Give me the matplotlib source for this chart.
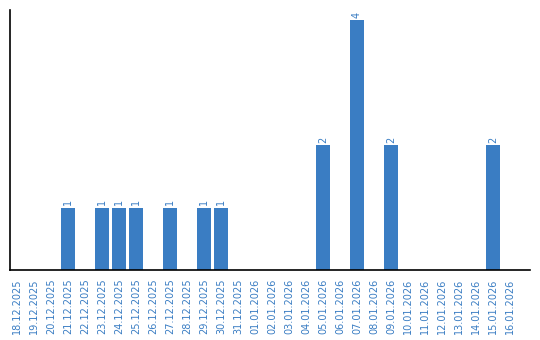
import matplotlib.pyplot as plt

dates = ['18.12.2025', '19.12.2025', '20.12.2025', '21.12.2025', '22.12.2025',
         '23.12.2025', '24.12.2025', '25.12.2025', '26.12.2025', '27.12.2025',
         '28.12.2025', '29.12.2025', '30.12.2025', '31.12.2025', '01.01.2026',
         '02.01.2026', '03.01.2026', '04.01.2026', '05.01.2026', '06.01.2026',
         '07.01.2026', '08.01.2026', '09.01.2026', '10.01.2026', '11.01.2026',
         '12.01.2026', '13.01.2026', '14.01.2026', '15.01.2026', '16.01.2026']
counts = [0, 0, 0, 1, 0,
          1, 1, 1, 0, 1,
          0, 1, 1, 0, 0,
          0, 0, 0, 2, 0,
          4, 0, 2, 0, 0,
          0, 0, 0, 2, 0]

blue = '#3a7dc3'

fig = plt.figure(figsize=(5.4, 3.4), dpi=100)
ax = fig.add_axes([10 / 540, 70 / 340, 520 / 540, 260 / 340])

x = range(len(dates))
ax.bar(x, counts, width=0.82, color=blue)

# value labels above the non-empty bars
for i, c in zip(x, counts):
    if c > 0:
        ax.text(i, c + 0.04, str(c), rotation=90, ha='center', va='bottom',
                fontsize=7, color=blue)

# categories are not centred: extra room on the right side
ax.set_xlim(-0.41, 30.18)
ax.set_ylim(0, 4.16)
ax.set_xticks(list(x))
ax.set_xticklabels(dates, rotation=90, fontsize=7, color=blue)
ax.tick_params(axis='x', length=0, pad=6)
ax.set_yticks([])

for side in ('top', 'right'):
    ax.spines[side].set_visible(False)
for side in ('left', 'bottom'):
    ax.spines[side].set_color('black')
    ax.spines[side].set_linewidth(1.2)

fig.savefig('out.png', dpi=100)
